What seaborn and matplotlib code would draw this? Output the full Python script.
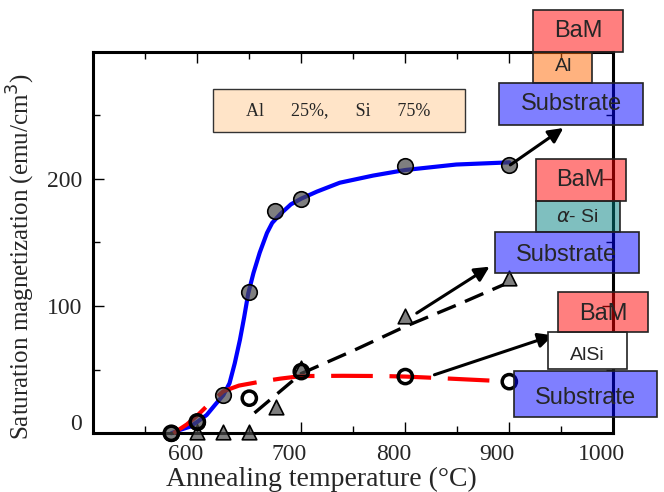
import matplotlib
matplotlib.use('Agg')
import matplotlib.pyplot as plt
import matplotlib.transforms as mtransforms
from matplotlib.patches import Rectangle
import seaborn as sns

sns.set_style("ticks")
plt.rcParams['font.family'] = ['Liberation Serif', 'DejaVu Serif']
plt.rcParams['mathtext.fontset'] = 'dejavusans'

W, H = 664, 492

# BaM / Al / substrate : filled circles + blue fit
al_temp = [575, 600, 625, 650, 675, 700, 800, 900]
al_ms = [0, 9, 30, 111, 175, 184, 210, 211]
al_fit_temp = [575, 583, 593, 600, 609, 617, 625, 631, 636, 641, 645, 649, 654, 660, 667,
               672, 680, 690, 700, 715, 737, 769, 800, 849, 900]
al_fit_ms = [0, 2.6, 5.2, 9, 14.4, 22.3, 30, 39.4, 55, 73.5, 91, 110, 126, 142, 157.5,
             165.4, 172.5, 180, 184.5, 190, 197, 202.6, 207, 211.3, 213]

# BaM / AlSi / substrate : open circles + red dashed fit
alsi_temp = [575, 600, 650, 700, 800, 900]
alsi_ms = [0, 9, 27.6, 48.5, 44.6, 40.6]
alsi_fit_temp = [577, 590, 600, 610, 625, 640, 660, 680, 700, 740, 780, 800, 830, 860, 893]
alsi_fit_ms = [0, 7, 14, 22, 33, 37.5, 40.5, 43, 45, 45.2, 45, 44.6, 43.5, 42.3, 41]

# BaM / a-Si / substrate : triangles + black dashed fit
si_temp = [600, 625, 650, 676, 700, 800, 900]
si_ms = [1, 1, 1, 21, 51, 92, 122]
si_fit_temp = [655, 700, 750, 800, 850, 895]
si_fit_ms = [16, 47, 65, 84, 101, 117]

x_ticks = [600, 700, 800, 900, 1000]
x_minor = [550, 650, 750, 850, 950]
y_ticks = [0, 100, 200]
y_minor = [50, 150, 250]

# arrows (start -> tip, data coords)
arrow_start = [(901, 211), (811, 94.5), (828, 46)]
arrow_tip = [(952, 240), (881, 131), (942, 77)]

# layer stacks drawn at the right, pixel boxes (x0, y0, x1, y1) from top-left
RED = (1.0, 0.0, 0.0, 0.5)
ORANGE = (1.0, 0.4, 0.0, 0.5)
BLUE = (0.0, 0.0, 1.0, 0.5)
TEAL = (0.0, 0.5, 0.5, 0.5)
WHITE = (1.0, 1.0, 1.0, 1.0)
layers = [
    ('Al', (532.7, 51.7, 592.3, 82.7), ORANGE, 14, (563.7, 66.7)),
    ('BaM', (532.7, 10, 623.3, 51.7), RED, 17, (578, 30.7)),
    ('Substrate', (499, 82.7, 643.3, 125), BLUE, 17, (571, 103.5)),
    ('$\\alpha$- Si', (535.7, 201, 620, 231.7), TEAL, 14, (577.7, 217.5)),
    ('BaM', (535.7, 159.3, 625.7, 201), RED, 17, (580, 180)),
    ('Substrate', (495, 231.7, 639, 273.3), BLUE, 17, (566.5, 255)),
    ('AlSi', (547.7, 332.3, 626.7, 369.3), WHITE, 14, (587.3, 355)),
    ('BaM', (558.3, 291.7, 648.3, 332.3), RED, 17, (603, 314)),
    ('Substrate', (514, 370.7, 657.3, 416.7), BLUE, 17, (585.5, 398)),
]


def add_box(fig, box, color, lw=1.2, ec='#222222'):
    x0, y0, x1, y1 = box
    r = Rectangle((x0 / W, 1 - y1 / H), (x1 - x0) / W, (y1 - y0) / H,
                  transform=fig.transFigure, facecolor=color, edgecolor=ec, lw=lw)
    fig.add_artist(r)


def main():
    fig = plt.figure(figsize=(W / 100, H / 100), dpi=100)
    ax = fig.add_axes([93.3 / W, 1 - 433.3 / H, 520 / W, 381.6 / H])

    grey = (0.286, 0.286, 0.286, 0.7)

    sns.lineplot(x=al_fit_temp, y=al_fit_ms, ax=ax, color='blue', lw=3,
                 sort=False, estimator=None, zorder=2, clip_on=False,
                 solid_joinstyle='round')
    sns.lineplot(x=si_fit_temp, y=si_fit_ms, ax=ax, color='black', lw=2.4,
                 linestyle=(0, (6, 3)), dash_capstyle='butt',
                 sort=False, estimator=None, zorder=2)
    sns.lineplot(x=alsi_fit_temp, y=alsi_fit_ms, ax=ax, color='red', lw=3,
                 linestyle=(0, (10, 4)), dash_capstyle='butt',
                 sort=False, estimator=None, zorder=2.6, clip_on=False)

    sns.scatterplot(x=si_temp, y=si_ms, ax=ax, marker='^', s=110, color=grey,
                    edgecolor='black', linewidth=1.2, zorder=4, clip_on=False)
    sns.scatterplot(x=al_temp, y=al_ms, ax=ax, marker='o', s=125, color=grey,
                    edgecolor='black', linewidth=1.2, zorder=4, clip_on=False)
    sns.scatterplot(x=alsi_temp, y=alsi_ms, ax=ax, marker='o', s=105, color='none',
                    edgecolor='black', linewidth=2.5, zorder=5, clip_on=False)

    for (x0, y0), (x1, y1) in zip(arrow_start, arrow_tip):
        ax.annotate('', xy=(x1, y1), xytext=(x0, y0), annotation_clip=False,
                    arrowprops=dict(arrowstyle='-|>', color='black', lw=2.2,
                                    mutation_scale=22, shrinkA=0, shrinkB=0),
                    zorder=6)

    ax.set_xlim(500, 1000)
    ax.set_ylim(0, 300)
    ax.set_xticks(x_ticks)
    ax.set_xticks(x_minor, minor=True)
    ax.set_yticks(y_ticks)
    ax.set_yticks(y_minor, minor=True)
    ax.tick_params(which='both', direction='in', top=True, right=True,
                   width=1.0, labelsize=17, color='black')
    ax.tick_params(which='major', length=8)
    ax.tick_params(which='minor', length=5)
    ax.tick_params(axis='x', pad=8)
    ax.tick_params(axis='y', pad=8)
    for sp in ax.spines.values():
        sp.set_linewidth(2.2)
        sp.set_color('black')

    # the source has its x labels slightly left of the ticks
    shift = mtransforms.ScaledTranslation(-0.12, 0, fig.dpi_scale_trans)
    for lab in ax.get_xticklabels():
        lab.set_transform(lab.get_transform() + shift)
    up = mtransforms.ScaledTranslation(0, 0.11, fig.dpi_scale_trans)
    ylabs = ax.get_yticklabels()
    ylabs[0].set_transform(ylabs[0].get_transform() + up)

    ax.set_xlabel('Annealing temperature (\u00b0C)', fontsize=20, va='center')
    ax.xaxis.set_label_coords(0.438, -0.122)
    ax.set_ylabel('Saturation magnetization (emu/cm$^3$)', fontsize=18, va='center')
    ax.yaxis.set_label_coords(-0.139, 0.463)

    # composition box
    add_box(fig, (212.7, 89.3, 465, 131.7), '#FFE4C8', lw=1.0, ec='#333333')
    fig.text(337.8 / W, 1 - 111 / H, 'Al      25%,      Si      75%', fontsize=13,
             ha='center', va='center')

    for label, box, color, size, (tx, ty) in layers:
        add_box(fig, box, color)
        fig.text(tx / W, 1 - ty / H, label, fontsize=size, ha='center', va='center',
                 family=['Liberation Sans', 'DejaVu Sans'], zorder=5)

    fig.savefig('out.png', dpi=100)
    plt.close(fig)


if __name__ == '__main__':
    main()
